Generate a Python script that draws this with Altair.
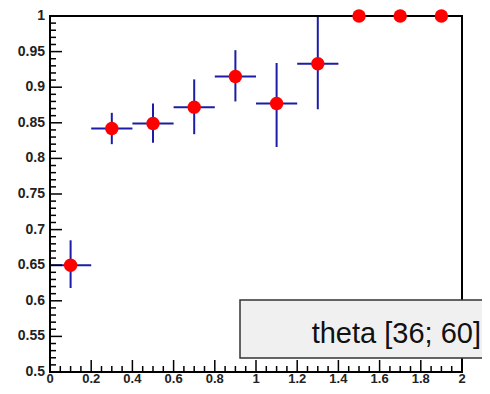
import altair as alt
import pandas as pd

# data
x_centers = [0.1, 0.3, 0.5, 0.7, 0.9, 1.1, 1.3, 1.5, 1.7, 1.9]
eff = [0.650, 0.842, 0.849, 0.872, 0.915, 0.877, 0.933, 1.0, 1.0, 1.0]
eff_lo = [0.618, 0.820, 0.822, 0.834, 0.880, 0.816, 0.869, 1.0, 1.0, 1.0]
eff_hi = [0.685, 0.864, 0.877, 0.911, 0.952, 0.934, 1.0, 1.0, 1.0, 1.0]
x_lo = [0.0, 0.2, 0.4, 0.6, 0.8, 1.0, 1.2, 1.4, 1.6, 1.8]
x_hi = [0.2, 0.4, 0.6, 0.8, 1.0, 1.2, 1.4, 1.6, 1.8, 2.0]

x_major = [0.0, 0.2, 0.4, 0.6, 0.8, 1.0, 1.2, 1.4, 1.6, 1.8, 2.0]
x_labels = ["0", "0.2", "0.4", "0.6", "0.8", "1", "1.2", "1.4", "1.6", "1.8", "2"]
x_minor = [0.05, 0.1, 0.15, 0.25, 0.3, 0.35, 0.45, 0.5, 0.55, 0.65, 0.7, 0.75,
           0.85, 0.9, 0.95, 1.05, 1.1, 1.15, 1.25, 1.3, 1.35, 1.45, 1.5, 1.55,
           1.65, 1.7, 1.75, 1.85, 1.9, 1.95]
y_major = [0.5, 0.55, 0.6, 0.65, 0.7, 0.75, 0.8, 0.85, 0.9, 0.95, 1.0]
y_labels = ["0.5", "0.55", "0.6", "0.65", "0.7", "0.75", "0.8", "0.85", "0.9", "0.95", "1"]
y_minor = [0.51, 0.52, 0.53, 0.54, 0.56, 0.57, 0.58, 0.59, 0.61, 0.62, 0.63, 0.64,
           0.66, 0.67, 0.68, 0.69, 0.71, 0.72, 0.73, 0.74, 0.76, 0.77, 0.78, 0.79,
           0.81, 0.82, 0.83, 0.84, 0.86, 0.87, 0.88, 0.89, 0.91, 0.92, 0.93, 0.94,
           0.96, 0.97, 0.98, 0.99]
legend_text = "theta [36; 60]"

W, H = 412, 356
df = pd.DataFrame({"x": x_centers, "y": eff, "ylo": eff_lo, "yhi": eff_hi,
                   "xlo": x_lo, "xhi": x_hi})

xs = alt.Scale(domain=[0, 2], nice=False, zero=False)
ys = alt.Scale(domain=[0.5, 1.0], nice=False, zero=False)

FONT = "Liberation Sans"
LBL = "#222222"


def X(field):
    return alt.X(field, scale=xs, axis=None)


def Y(field):
    return alt.Y(field, scale=ys, axis=None)


base = alt.Chart(df)
BLUE = "#1c1ca6"

hbars = base.mark_rule(color=BLUE, strokeWidth=2).encode(
    x=X("xlo:Q"), x2="xhi:Q", y=Y("y:Q"))
vbars = base.mark_rule(color=BLUE, strokeWidth=2).encode(
    x=X("x:Q"), y=Y("ylo:Q"), y2="yhi:Q")

frame = alt.Chart(pd.DataFrame({"a": [0]})).mark_rect(
    fill=None, stroke="black", strokeWidth=2).encode(
    x=alt.value(0), x2=alt.value(W), y=alt.value(0), y2=alt.value(H))

xmaj = alt.Chart(pd.DataFrame({"v": x_major})).mark_rule(color="black", strokeWidth=1.5).encode(
    x=X("v:Q"), y=alt.value(H), y2=alt.value(H - 12))
xmin = alt.Chart(pd.DataFrame({"v": x_minor})).mark_rule(color="black", strokeWidth=1.5).encode(
    x=X("v:Q"), y=alt.value(H), y2=alt.value(H - 6))
ymaj = alt.Chart(pd.DataFrame({"v": y_major})).mark_rule(color="black", strokeWidth=1.5).encode(
    y=Y("v:Q"), x=alt.value(0), x2=alt.value(12))
ymin = alt.Chart(pd.DataFrame({"v": y_minor})).mark_rule(color="black", strokeWidth=1.5).encode(
    y=Y("v:Q"), x=alt.value(0), x2=alt.value(6))

xlab = alt.Chart(pd.DataFrame({"v": x_major, "t": x_labels})).mark_text(
    font=FONT, fontWeight="bold", fontSize=13, color=LBL, align="center",
    baseline="alphabetic").encode(x=X("v:Q"), y=alt.value(H + 10.5), text="t:N")
ylab = alt.Chart(pd.DataFrame({"v": y_major, "t": y_labels})).mark_text(
    font=FONT, fontWeight="bold", fontSize=14, color=LBL, align="right",
    baseline="middle").encode(y=Y("v:Q"), x=alt.value(-5), text="t:N")

points = base.mark_circle(color="#ff0000", opacity=1, size=180).encode(
    x=X("x:Q"), y=Y("y:Q"))

legend_box = alt.Chart(pd.DataFrame({"t": [legend_text]})).mark_rect(
    fill="#f0f0f0", stroke="#333333", strokeWidth=1.5).encode(
    x=alt.value(190), x2=alt.value(460), y=alt.value(284), y2=alt.value(342))
legend_lbl = alt.Chart(pd.DataFrame({"t": [legend_text]})).mark_text(
    font=FONT, fontSize=29, align="right", baseline="alphabetic", color="#111111").encode(
    text="t:N", x=alt.value(431), y=alt.value(327))

chart = alt.layer(hbars, vbars, frame, xmaj, xmin, ymaj, ymin, xlab, ylab, points,
                  legend_box, legend_lbl).properties(
    width=W, height=H,
    autosize=alt.AutoSizeParams(type="none"),
    padding={"left": 42, "top": 8, "right": 20, "bottom": 14},
).configure_view(stroke=None)

chart.save("out.html", embed_options={"renderer": "svg", "actions": False})
